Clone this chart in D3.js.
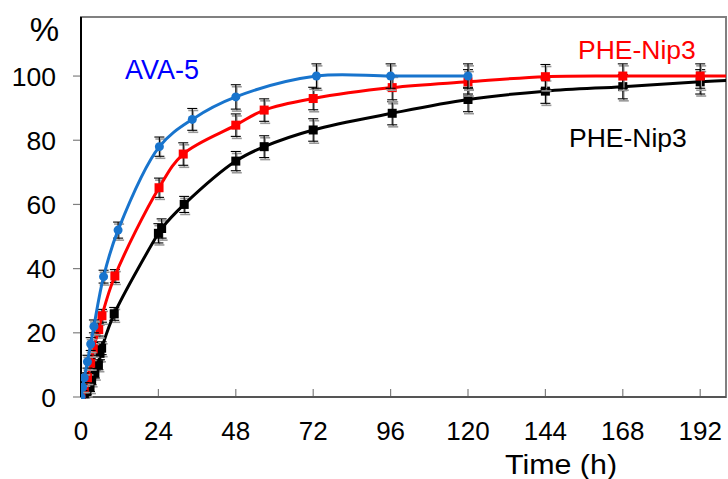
<!DOCTYPE html>
<html>
<head>
<meta charset="utf-8">
<script src="https://cdn.jsdelivr.net/npm/d3@7"></script>
<style>
  body { margin: 0; background: #fff; }
  svg { font-family: "Liberation Sans", Arial, sans-serif; }
</style>
</head>
<body>
<svg id="chart" width="728" height="479"></svg>
<script>
const svg = d3.select("#chart");

// AVA-5 (blue)
const avaTime = [0, 0.5, 1, 2, 3, 4, 7, 11.5, 24.3, 34.5, 48, 73, 96, 120];
const avaVal = [0, 3, 6, 11, 16.5, 22, 37.5, 52, 78, 86.5, 93.5, 100, 100, 100];
const avaErr = [0, 1, 1.5, 2, 2, 2, 2, 2.5, 3, 3.4, 3.8, 3.8, 3.8, 3.8];

// PHE-Nip3 (red)
const redTime = [0, 1, 2, 3, 3.8, 5.5, 6.5, 10.5, 24.2, 31.7, 48, 56.8, 72, 96.5, 120, 144, 168, 192, 205];
const redVal = [0, 3, 6, 10.5, 15, 21, 25.3, 37.7, 65.2, 75.7, 84.7, 89.4, 93, 96.4, 98.2, 99.8, 100, 100, 100];
const redErr = [0, 1, 1.5, 1.5, 2, 2, 2, 2, 3, 3.5, 3.5, 3.5, 3.5, 3.8, 3.8, 3.8, 3.8, 3.8, 0];

// PHE-Nip3 (black)
const blkTime = [0, 1, 1.8, 2.8, 3.3, 4.3, 5.4, 5.9, 6.4, 10.3, 24, 25, 32, 48, 56.8, 72, 96.5, 120, 144, 168, 192, 205];
const blkVal = [0, 1, 1.7, 3.2, 5.3, 7.4, 10, 13.6, 15.2, 25.9, 51, 52.5, 60, 73.5, 78, 83.2, 88.4, 92.7, 95.3, 96.7, 98.2, 98.8];
const blkErr = [0, 1, 1, 1.5, 1.5, 1.5, 1.5, 2, 2, 2, 3, 3, 2.5, 3, 3.4, 3.5, 3.6, 3.8, 3.8, 3.8, 3.8, 0];

const xTicks = [0, 24, 48, 72, 96, 120, 144, 168, 192];
const yTicks = [0, 20, 40, 60, 80, 100];

const padL = 81, padR = 726, padT = 17, padB = 397;
const x = d3.scaleLinear().domain([0, 200]).range([padL, padR]);
const y = d3.scaleLinear().domain([0, 118.4]).range([padB, padT]);

const series = [
  { time: blkTime, val: blkVal, err: blkErr, color: "#000000", marker: "square" },
  { time: redTime, val: redVal, err: redErr, color: "#ff0000", marker: "square" },
  { time: avaTime, val: avaVal, err: avaErr, color: "#1874cd", marker: "circle" }
];

svg.append("defs").append("clipPath").attr("id", "clip")
  .append("rect").attr("x", padL).attr("y", padT - 2)
  .attr("width", padR - padL).attr("height", padB - padT + 4);

// frame
svg.append("rect")
  .attr("x", padL).attr("y", padT)
  .attr("width", padR - padL).attr("height", padB - padT)
  .attr("fill", "none").attr("stroke", "#808080").attr("stroke-width", 2);

// x axis ticks (inside)
svg.append("g").selectAll("line").data(xTicks.slice(1)).enter().append("line")
  .attr("x1", d => x(d)).attr("x2", d => x(d))
  .attr("y1", padB).attr("y2", padB - 8)
  .attr("stroke", "#808080").attr("stroke-width", 1.2);

svg.append("g").selectAll("text").data(xTicks).enter().append("text")
  .attr("x", d => x(d)).attr("y", 439.5)
  .attr("text-anchor", "middle").attr("font-size", 26)
  .text(d => d);

// y axis ticks (outside)
svg.append("g").selectAll("line").data(yTicks).enter().append("line")
  .attr("x1", padL - 8).attr("x2", padL)
  .attr("y1", d => y(d)).attr("y2", d => y(d))
  .attr("stroke", "#808080").attr("stroke-width", 1.2);

svg.append("g").selectAll("text").data(yTicks).enter().append("text")
  .attr("x", 56).attr("y", d => y(d) + 9.5)
  .attr("text-anchor", "end").attr("font-size", 26.5)
  .text(d => d);

// axes
svg.append("line").attr("x1", padL).attr("x2", padL).attr("y1", padT).attr("y2", padB)
  .attr("stroke", "#000").attr("stroke-width", 2);
svg.append("line").attr("x1", padL).attr("x2", padR).attr("y1", padB).attr("y2", padB)
  .attr("stroke", "#555").attr("stroke-width", 2);

svg.append("text").attr("x", 59).attr("y", 41).attr("text-anchor", "end")
  .attr("font-size", 33).text("%");
svg.append("text").attr("x", 505).attr("y", 474)
  .attr("font-size", 27).attr("textLength", 112).attr("lengthAdjust", "spacingAndGlyphs")
  .text("Time (h)");

const plot = svg.append("g").attr("clip-path", "url(#clip)");

const line = d3.line()
  .x(d => x(d.t)).y(d => y(d.v))
  .curve(d3.curveCatmullRom.alpha(0.5));

series.forEach(s => {
  const pts = s.time.map((t, i) => ({ t, v: s.val[i], e: s.err[i] }));
  const shown = pts.filter(d => d.t <= 200);

  // error bars: grey shadow then black
  [{ c: "#999", dx: 1, dy: 2, w: 1.6 }, { c: "#000", dx: 0, dy: 0, w: 1.1 }].forEach(st => {
    const g = plot.append("g").attr("stroke", st.c).attr("stroke-width", st.w)
      .attr("transform", `translate(${st.dx},${st.dy})`);
    shown.filter(d => d.e > 0).forEach(d => {
      const cx = x(d.t), y1 = y(d.v + d.e), y2 = y(d.v - d.e);
      g.append("line").attr("x1", cx).attr("x2", cx).attr("y1", y1).attr("y2", y2);
      g.append("line").attr("x1", cx - 5).attr("x2", cx + 5).attr("y1", y1).attr("y2", y1);
      g.append("line").attr("x1", cx - 5).attr("x2", cx + 5).attr("y1", y2).attr("y2", y2);
    });
  });

  plot.append("path").datum(pts)
    .attr("d", line).attr("fill", "none")
    .attr("stroke", s.color).attr("stroke-width", 3);

  if (s.marker === "square") {
    plot.append("g").selectAll("rect").data(shown).enter().append("rect")
      .attr("x", d => x(d.t) - 4.5).attr("y", d => y(d.v) - 4.5)
      .attr("width", 9).attr("height", 9).attr("fill", s.color);
  } else {
    plot.append("g").selectAll("circle").data(shown).enter().append("circle")
      .attr("cx", d => x(d.t)).attr("cy", d => y(d.v)).attr("r", 4.5)
      .attr("fill", s.color);
  }
});

// labels
svg.append("text").attr("x", 125).attr("y", 79).attr("font-size", 27)
  .attr("fill", "#0000ff").text("AVA-5");
svg.append("text").attr("x", 578).attr("y", 59).attr("font-size", 26.5)
  .attr("fill", "#ff0000").text("PHE-Nip3");
svg.append("text").attr("x", 569).attr("y", 147).attr("font-size", 26.5)
  .attr("fill", "#000").text("PHE-Nip3");
</script>
</body>
</html>
